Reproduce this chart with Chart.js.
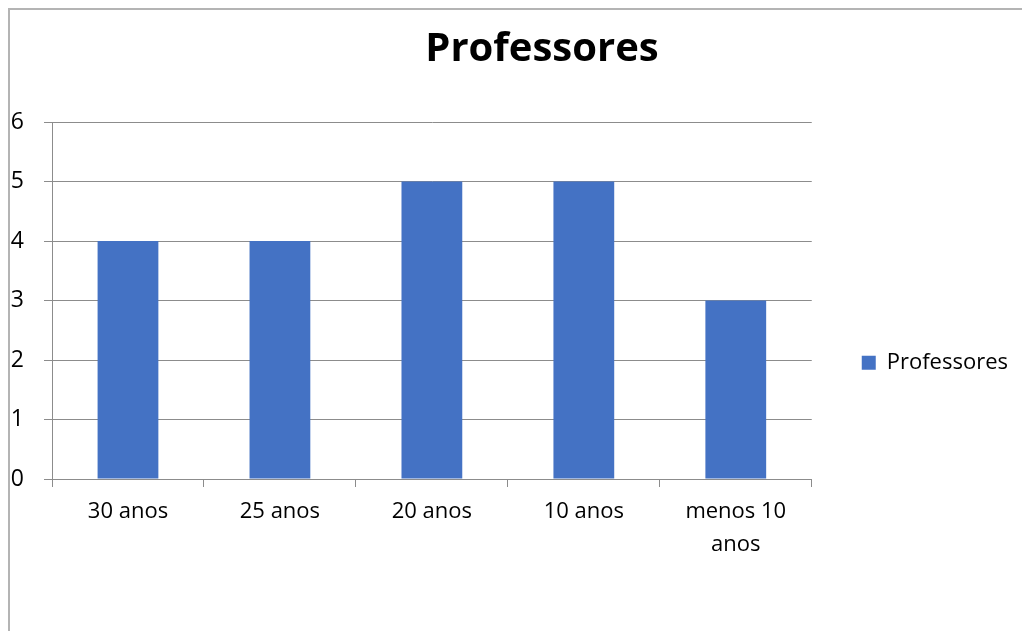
<!DOCTYPE html>
<html>
<head>
<meta charset="utf-8">
<script src="https://cdn.jsdelivr.net/npm/chart.js@4/dist/chart.umd.min.js"></script>
<style>
  html, body { margin: 0; padding: 0; background: #fff; overflow: hidden; }
  #wrap { position: relative; width: 1022px; height: 631px; overflow: hidden; }
  #frame { position: absolute; left: 8px; top: 8px; width: 1100px; height: 700px;
           border-left: 2px solid #b4b4b4; border-top: 2px solid #b4b4b4; box-sizing: border-box; }
  #box { position: absolute; left: 0; top: 0; width: 1022px; height: 631px; }
</style>
</head>
<body>
<div id="wrap">
  <div id="frame"></div>
  <div id="box"><canvas id="myChart"></canvas></div>
</div>
<script>
// chart data
const categories = ['30 anos', '25 anos', '20 anos', '10 anos', ['menos 10', 'anos']];
const professores = [4, 4, 5, 5, 3];
const yTicks = [0, 1, 2, 3, 4, 5, 6];

const font = "'Open Sans', 'Noto Sans', sans-serif";
const gridColor = '#8c8c8c';

// the original chart is wider than the visible crop, so its title sits right of centre
const titleShift = {
  id: 'titleShift',
  afterLayout(chart) {
    const t = chart.titleBlock;
    if (t) { t.left += 33; t.right += 33; }
  }
};

const chart = new Chart('myChart', {
  type: 'bar',
  data: {
    labels: categories,
    datasets: [{
      label: 'Professores',
      data: professores,
      backgroundColor: '#4472C4',
      borderWidth: 0,
      categoryPercentage: 0.4,
      barPercentage: 1
    }]
  },
  options: {
    responsive: true,
    maintainAspectRatio: false,
    animation: false,
    layout: { padding: { left: 0, right: 4, top: 0, bottom: 0 } },
    plugins: {
      title: {
        display: true,
        text: 'Professores',
        color: '#000',
        font: { family: font, size: 40, weight: 'bold', lineHeight: 1.2 },
        padding: { top: 26, bottom: 48 }
      },
      legend: {
        position: 'right',
        align: 'center',
        title: {
          display: true,
          text: '',
          font: { family: font, size: 22, lineHeight: 1.2 },
          padding: { top: 68, bottom: 0 }
        },
        labels: {
          color: '#000',
          font: { family: font, size: 22 },
          boxWidth: 14,
          boxHeight: 14,
          padding: 50
        }
      },
      tooltip: { enabled: false }
    },
    scales: {
      x: {
        offset: true,
        grid: {
          offset: true,
          drawOnChartArea: false,
          drawTicks: true,
          tickLength: 8,
          color: gridColor
        },
        border: { color: gridColor, width: 1 },
        ticks: {
          color: '#000',
          font: { family: font, size: 22, lineHeight: 1.5 },
          padding: 8,
          maxRotation: 0,
          autoSkip: false
        },
        afterFit: (scale) => { scale.height = 152; }
      },
      y: {
        min: 0,
        max: 6,
        afterBuildTicks: (scale) => { scale.ticks = yTicks.map(v => ({ value: v })); },
        grid: { color: gridColor, tickLength: 8 },
        border: { color: gridColor, width: 1 },
        ticks: {
          color: '#000',
          font: { family: font, size: 23 },
          padding: 20
        },
        afterFit: (scale) => { scale.width = 52; }
      }
    }
  },
  plugins: [titleShift]
});
</script>
</body>
</html>
